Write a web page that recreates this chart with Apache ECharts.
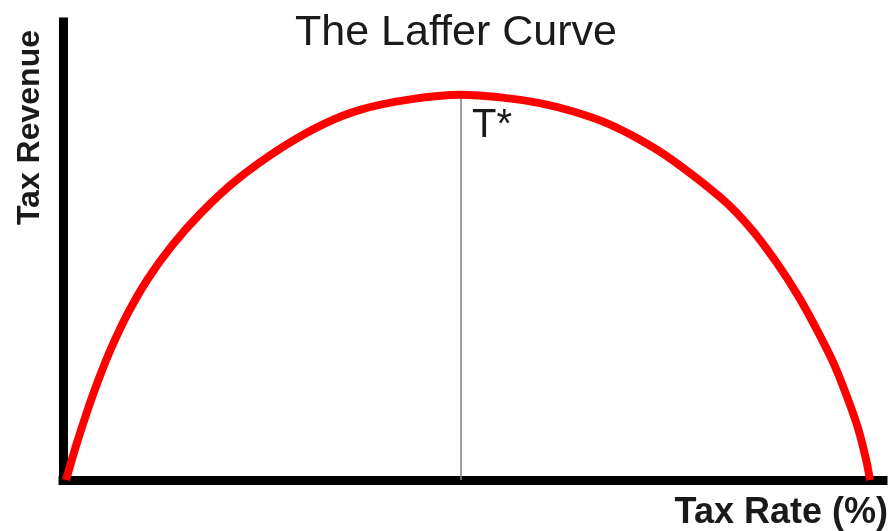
<!DOCTYPE html>
<html>
<head>
<meta charset="utf-8">
<script src="https://cdn.jsdelivr.net/npm/echarts@6/dist/echarts.min.js"></script>
<style>
  html, body { margin: 0; padding: 0; background: #fff; }
  #chart { width: 891px; height: 531px; }
</style>
</head>
<body>
<div id="chart"></div>
<script>
// tax rate (%) and tax revenue
var taxRate = [0.37, 1.59, 2.90, 4.35, 6.0, 7.95, 10.30, 13.23, 16.83, 21.22, 26.91, 31.71, 36.22, 41.95, 48.54,
               54.11, 58.17, 62.23, 66.30, 70.37, 74.43, 80.33, 83.99, 87.04, 89.67, 91.91, 93.94, 95.57, 96.99, 98.01, 98.41];
var revenue = [0, 7.47, 14.75, 22.0, 29.26, 36.54, 43.79, 51.05, 58.32, 65.58, 72.83, 77.67, 80.83, 83.0, 84.1,
               83.38, 82.29, 80.46, 77.93, 74.29, 69.72, 61.44, 54.68, 47.43, 40.15, 32.9, 25.64, 18.37, 11.11, 3.86, 0];
var peakRate = 48.54;
var peakRevenue = 84.1;
var peakLabel = 'T*';

var font = 'Liberation Sans, Arial, sans-serif';

var curve = [];
for (var i = 0; i < taxRate.length; i++) {
  curve.push([taxRate[i], revenue[i]]);
}

var myChart = echarts.init(document.getElementById('chart'));
myChart.setOption({
  animation: false,
  title: {
    text: 'The Laffer Curve',
    left: 451,
    textAlign: 'center',
    top: 7,
    textStyle: { fontFamily: font, fontSize: 43, fontWeight: 'normal', color: '#1a1a1a' }
  },
  grid: { left: 63, right: 8, top: 22, bottom: 50 },
  xAxis: {
    type: 'value',
    min: 0,
    max: 100,
    name: 'Tax Rate (%)',
    nameLocation: 'end',
    nameGap: 5,
    nameTextStyle: {
      fontFamily: font, fontSize: 36, fontWeight: 'bold', color: '#1a1a1a',
      align: 'right', verticalAlign: 'top', padding: [15, 0, 0, 0]
    },
    axisLine: { lineStyle: { color: '#000', width: 9, cap: 'square' } },
    axisTick: { show: false },
    axisLabel: { show: false },
    splitLine: { show: false }
  },
  yAxis: {
    type: 'value',
    min: 0,
    max: 100,
    name: 'Tax Revenue',
    nameLocation: 'end',
    nameRotate: 90,
    nameGap: -8,
    nameTextStyle: {
      fontFamily: font, fontSize: 32, fontWeight: 'bold', color: '#1a1a1a',
      align: 'right', verticalAlign: 'bottom', padding: [0, 0, 17, 0]
    },
    axisLine: { show: true, lineStyle: { color: '#000', width: 9, cap: 'square' } },
    axisTick: { show: false },
    axisLabel: { show: false },
    splitLine: { show: false }
  },
  series: [
    {
      type: 'line',
      symbol: 'circle',
      symbolSize: 0,
      lineStyle: { color: '#808080', width: 1.5 },
      data: [
        [peakRate, 0],
        {
          value: [peakRate, peakRevenue],
          label: {
            show: true,
            formatter: peakLabel,
            position: [11, 11],
            align: 'left',
            verticalAlign: 'top',
            fontFamily: font,
            fontSize: 40,
            color: '#1a1a1a'
          }
        }
      ],
      z: 1
    },
    {
      type: 'line',
      smooth: 0.33,
      symbol: 'none',
      lineStyle: { color: '#ff0000', width: 8 },
      data: curve,
      z: 2
    }
  ]
});
</script>
</body>
</html>
